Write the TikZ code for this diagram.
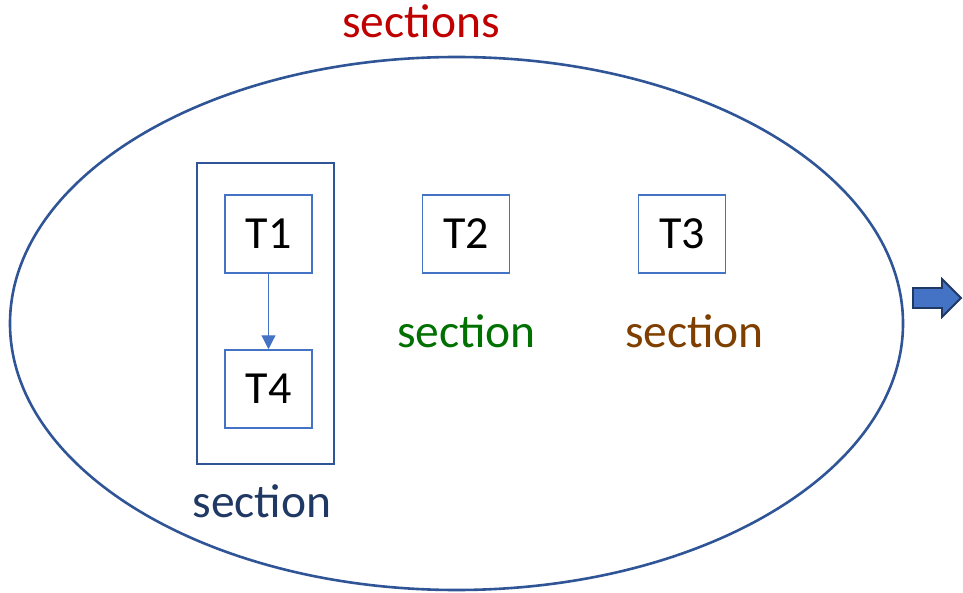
\documentclass[tikz,border=0pt]{standalone}
\usepackage{fontspec}
\setmainfont{Carlito}
\usetikzlibrary{shapes.geometric,arrows.meta}
\definecolor{rimblue}{HTML}{2F5597}
\definecolor{boxblue}{HTML}{4472C4}
\definecolor{navytext}{HTML}{1F3864}
\definecolor{redtext}{HTML}{C00000}
\definecolor{greentext}{HTML}{007000}
\definecolor{browntext}{HTML}{7F3F00}
\tikzset{
  task/.style={draw=boxblue, line width=1.5pt, minimum width=87pt, minimum height=78pt,
    inner sep=0pt, font=\fontsize{46}{50}\selectfont},
  label/.style={inner sep=0pt, anchor=base, font=\fontsize{47.5}{52}\selectfont},
  rim/.style={draw=rimblue, line width=2.6pt},
}
\begin{document}
\begin{tikzpicture}[x=1pt,y=-1pt]
\useasboundingbox (0,0) rectangle (963,593);
% the collection of sections
\node[rim, ellipse, minimum width=893pt, minimum height=533pt, inner sep=0pt] (all) at (456.5,323.5) {};
\node[label, text=redtext] (allname) at (421,38) {sections};
% first section holding T1 and T4
\node[rim, minimum width=137pt, minimum height=301pt, inner sep=0pt] (sec1) at (265.5,313.5) {};
\node[task] (t1) at (268.5,234) {T1};
\node[task] (t4) at (268.5,389) {T4};
\draw[boxblue, line width=1.2pt, -{Triangle[length=14pt,width=14pt]}] (t1.south) -- (t4.north);
\node[label, text=navytext] (sec1name) at (262,517) {section};
% second and third sections
\node[task] (t2) at (466,234) {T2};
\node[label, text=greentext] (sec2name) at (466.5,347) {section};
\node[task] (t3) at (682,234) {T3};
\node[label, text=browntext] (sec3name) at (694.5,347) {section};
% outgoing block arrow
\draw[fill=boxblue, draw=navytext, line width=1.8pt, line join=miter]
  (913,288) -- (942,288) -- (942,279) -- (961,298) -- (942,317) -- (942,308) -- (913,308) -- cycle;
\end{tikzpicture}
\end{document}
